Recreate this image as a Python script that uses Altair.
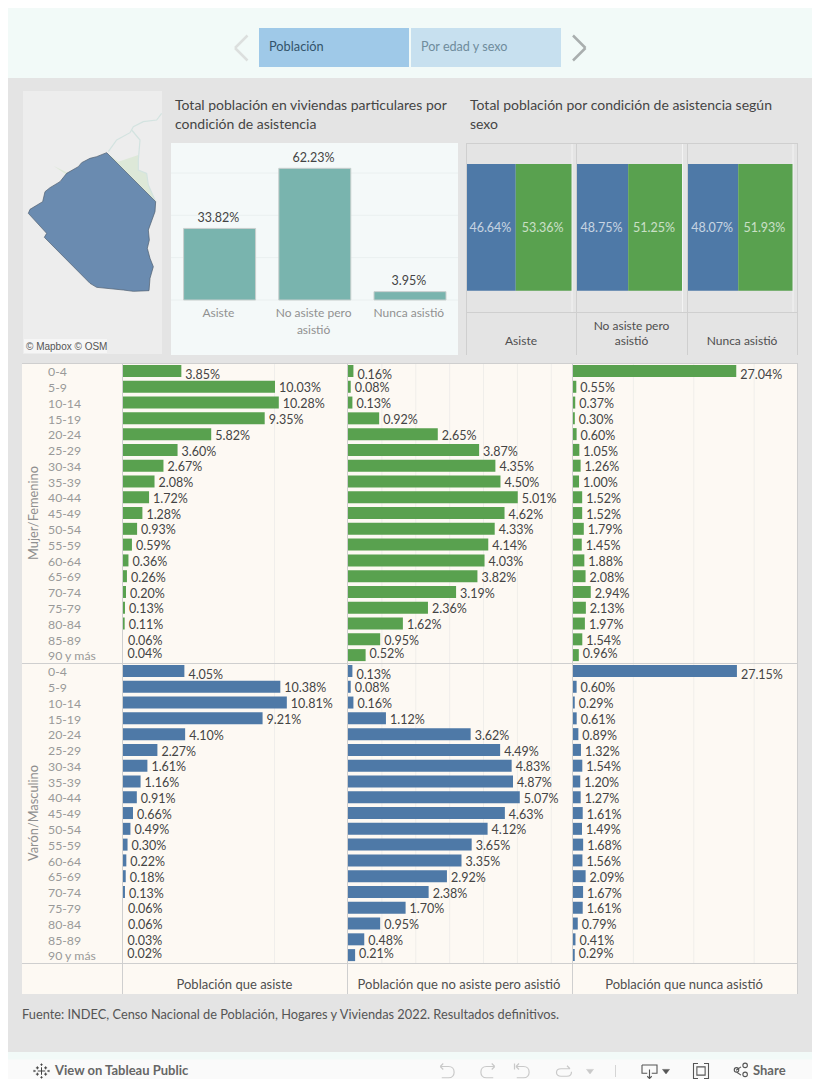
import altair as alt
import pandas as pd

FONT = "Lato"
BLUE = "#4e79a7"
GREEN = "#59a14f"
TEAL = "#79b4ae"
LINE = "#cfcfcf"

ages = ["0-4", "5-9", "10-14", "15-19", "20-24", "25-29", "30-34", "35-39", "40-44", "45-49",
        "50-54", "55-59", "60-64", "65-69", "70-74", "75-79", "80-84", "85-89", "90 y más"]
f_asiste = [3.85, 10.03, 10.28, 9.35, 5.82, 3.60, 2.67, 2.08, 1.72, 1.28, 0.93, 0.59, 0.36, 0.26, 0.20, 0.13, 0.11, 0.06, 0.04]
f_no = [0.16, 0.08, 0.13, 0.92, 2.65, 3.87, 4.35, 4.50, 5.01, 4.62, 4.33, 4.14, 4.03, 3.82, 3.19, 2.36, 1.62, 0.95, 0.52]
f_nunca = [27.04, 0.55, 0.37, 0.30, 0.60, 1.05, 1.26, 1.00, 1.52, 1.52, 1.79, 1.45, 1.88, 2.08, 2.94, 2.13, 1.97, 1.54, 0.96]
m_asiste = [4.05, 10.38, 10.81, 9.21, 4.10, 2.27, 1.61, 1.16, 0.91, 0.66, 0.49, 0.30, 0.22, 0.18, 0.13, 0.06, 0.06, 0.03, 0.02]
m_no = [0.13, 0.08, 0.16, 1.12, 3.62, 4.49, 4.83, 4.87, 5.07, 4.63, 4.12, 3.65, 3.35, 2.92, 2.38, 1.70, 0.95, 0.48, 0.21]
m_nunca = [27.15, 0.60, 0.29, 0.61, 0.89, 1.32, 1.54, 1.20, 1.27, 1.61, 1.49, 1.68, 1.56, 2.09, 1.67, 1.61, 0.79, 0.41, 0.29]

cond = ["Asiste", "No asiste pero\nasistió", "Nunca asistió"]
cond_total = [33.82, 62.23, 3.95]
sex_varon = [46.64, 48.75, 48.07]
sex_mujer = [53.36, 51.25, 51.93]

# map outline, in the reference's map units
map_x = [320, 467, 465, 445, 448, 442, 450, 460, 450, 447, 400, 370, 290, 270, 133, 140, 85, 90, 128, 135, 150, 180, 200, 235, 245, 270, 290, 320]
map_y = [458, 605, 635, 690, 720, 745, 775, 800, 835, 872, 874, 870, 862, 850, 712, 700, 640, 628, 605, 575, 563, 545, 520, 500, 488, 475, 470, 458]
river_x = [485, 470, 430, 400, 390, 350, 325]
river_y = [340, 360, 365, 380, 398, 420, 455]
river2_x = [395, 420, 415, 415, 440, 445, 467]
river2_y = [390, 420, 480, 510, 520, 555, 605]
park_x = [355, 415, 415, 440, 445, 467, 320, 355]
park_y = [485, 465, 510, 520, 555, 605, 458, 485]
park2_x = [160, 205, 200, 160]
park2_y = [497, 520, 524, 497]

ONE = alt.Data(values=[{"a": 1}])
layers = []


def Y(v):
    return v - 8


def X(v):
    return v - 8


def rect(x0, x1, y0, y1, color, **kw):
    layers.append(alt.Chart(ONE).mark_rect(color=color, **kw).encode(
        x=alt.value(X(x0)), x2=alt.value(X(x1)), y=alt.value(Y(y0)), y2=alt.value(Y(y1))))


def rule(x0, y0, x1, y1, color=LINE, width=1, **kw):
    layers.append(alt.Chart(ONE).mark_rule(color=color, strokeWidth=width, **kw).encode(
        x=alt.value(X(x0)), x2=alt.value(X(x1)), y=alt.value(Y(y0)), y2=alt.value(Y(y1))))


def label(x, y, s, size=12, color="#555555", align="left", angle=0, weight=400, font=FONT, **kw):
    layers.append(alt.Chart(ONE).mark_text(text=s, fontSize=size, color=color, align=align, angle=angle,
                                           fontWeight=weight, font=font, baseline="middle", **kw).encode(
        x=alt.value(X(x)), y=alt.value(Y(y))))


def icon(x, y, path, px=16, color="#c9c9c9", width=1.2, fill=None):
    kw = {"fill": fill, "filled": True} if fill else {"filled": False}
    layers.append(alt.Chart(ONE).mark_point(shape=path, size=px * px, stroke=color, strokeWidth=width,
                                            opacity=1, **kw).encode(
        x=alt.value(X(x)), y=alt.value(Y(y))))


def poly(xs, ys, fill=None, stroke=None, sw=1):
    df = pd.DataFrame({"x": xs, "y": ys, "o": range(len(xs))})
    kw = {}
    if fill:
        kw["fill"] = fill
    layers.append(alt.Chart(df).mark_line(stroke=stroke or "transparent", strokeWidth=sw, interpolate="linear", **kw).encode(
        x=alt.X("x:Q", axis=None, scale=alt.Scale(domain=[69, 486], range=[X(23), X(162)], nice=False, zero=False)),
        y=alt.Y("y:Q", axis=None, scale=alt.Scale(domain=[273, 1062], range=[Y(91), Y(354)], nice=False, zero=False)),
        order="o:Q"))


# ---------- page furniture ----------
rect(8, 812, 1059.5, 1087, "#fafafa")
rect(8, 812, 78, 1052, "#e4e4e4")

rect(259, 409, 28, 67, "#9fc9e8")
rect(411, 561, 28, 67, "#c7e0ef")
label(269, 47, "Población", size=12.8, color="#33546b")
label(421, 47, "Por edad y sexo", size=12.6, color="#6f8c9c")
rule(247.5, 35.5, 235, 48, "#dcdfde", 2.5)
rule(235, 48, 247.5, 60.5, "#dcdfde", 2.5)
rule(573, 35.5, 585.5, 48, "#a9aeae", 2.5)
rule(585.5, 48, 573, 60.5, "#a9aeae", 2.5)

# ---------- map ----------
rect(23, 162, 91, 354, "#ededed")
poly(park_x, park_y, fill="#dde8d8")
poly(park2_x, park2_y, fill="#dde8d8")
poly(river_x, river_y, stroke="#d3e3e0", sw=1.2)
poly(river2_x, river2_y, stroke="#d3e3e0", sw=1.2)
poly(map_x, map_y, fill="#6a8bb0", stroke="#4f5f70", sw=0.7)
rect(24, 107, 339, 353, "#f6f6f6")
label(26, 346.5, "© Mapbox  © OSM", size=10, color="#555555", font="Liberation Sans")

# ---------- titles ----------
TITLE = 14
label(175, 105.5, "Total población en viviendas particulares por", size=TITLE, color="#454545")
label(175, 124.5, "condición de asistencia", size=TITLE, color="#454545")
label(470, 105.5, "Total población por condición de asistencia según", size=TITLE, color="#454545")
label(470, 124.5, "sexo", size=TITLE, color="#454545")

# ---------- total by condition ----------
rect(171, 458, 143, 355, "#f4f9f9")
top_x = alt.Scale(domain=cond, range=[X(172), X(457.6)], paddingInner=0, paddingOuter=0)
top_y = alt.Scale(domain=[0, 74.2], range=[Y(300), Y(143)], nice=False, zero=True)
cond_df = pd.DataFrame({"c": cond, "v": cond_total, "t": [f"{v:.2f}%" for v in cond_total]})
grid_df = pd.DataFrame({"v": [0, 20, 40, 60]})
layers.append(alt.Chart(grid_df).mark_rule(color="#eaf0f0", strokeWidth=1).encode(
    y=alt.Y("v:Q", axis=None, scale=top_y), x=alt.value(X(171)), x2=alt.value(X(458))))
layers.append(alt.Chart(cond_df).mark_bar(size=72, color=TEAL, stroke="#c9cfce", strokeWidth=1).encode(
    x=alt.X("c:N", axis=None, sort=None, scale=top_x), y=alt.Y("v:Q", axis=None, scale=top_y)))
layers.append(alt.Chart(cond_df).mark_text(fontSize=12.5, font=FONT, color="#444444", dy=-10.5, dx=-1.2, baseline="middle").encode(
    x=alt.X("c:N", axis=None, sort=None, scale=top_x), y=alt.Y("v:Q", axis=None, scale=top_y), text="t:N"))
layers.append(alt.Chart(cond_df).mark_text(fontSize=12, font=FONT, color="#919191", baseline="top", lineBreak="\n",
                                           lineHeight=17, dx=-1.2).encode(
    x=alt.X("c:N", axis=None, sort=None, scale=top_x), y=alt.value(Y(308)), text="c:N"))

# ---------- condition by sex ----------
rule(466, 143.5, 798, 143.5)
rule(466, 312.5, 798, 312.5)
for xv in [466.5, 576.5, 687.5, 797.5]:
    rule(xv, 143.5, xv, 355)
spans = [(467, 571.5), (577, 682), (688, 792.5)]
for i, (a, b) in enumerate(spans):
    rule(b + .5, 144, b + .5, 312, "#f3f3f3", 1)
    df = pd.DataFrame({
        "s": ["Varón", "Mujer"],
        "lo": [0, sex_varon[i]],
        "hi": [sex_varon[i], sex_varon[i] + sex_mujer[i]],
        "mid": [sex_varon[i] / 2, sex_varon[i] + sex_mujer[i] / 2],
        "t": [f"{sex_varon[i]:.2f}%", f"{sex_mujer[i]:.2f}%"],
    })
    sc = alt.Scale(domain=[0, 100], range=[X(a), X(b)], nice=False, zero=True)
    layers.append(alt.Chart(df).mark_bar().encode(
        x=alt.X("lo:Q", axis=None, scale=sc), x2="hi:Q",
        y=alt.value(Y(164)), y2=alt.value(Y(290.7)),
        color=alt.Color("s:N", legend=None, scale=alt.Scale(domain=["Varón", "Mujer"], range=[BLUE, GREEN]))))
    layers.append(alt.Chart(df).mark_text(fontSize=12.5, font=FONT, color="#ffffff", opacity=0.68, dx=-1, baseline="middle").encode(
        x=alt.X("mid:Q", axis=None, scale=sc), y=alt.value(Y(228)), text="t:N"))
label(521, 340.5, "Asiste", align="center", color="#4f4f4f")
label(631.5, 325.5, "No asiste pero", align="center", color="#4f4f4f")
label(631.5, 340.5, "asistió", align="center", color="#4f4f4f")
label(742, 340.5, "Nunca asistió", align="center", color="#4f4f4f")

# ---------- pyramid table ----------
rect(22, 798, 364, 994, "#fdf9f3")
cols = [
    (123, 347.3, 14.8, [10], f_asiste, m_asiste, 0.1),
    (348, 572.3, 6.62, [1, 2, 3, 4, 5, 6], f_no, m_no, 0),
    (573, 797.3, 37.15, [10, 20, 30], f_nunca, m_nunca, 0),
]
bands = [(363.1, 663.0), (663.1, 963.0)]
for x0, x1, top, grid, fvals, mvals, min_bar in cols:
    sc = alt.Scale(domain=[0, top], range=[X(x0), X(x1)], nice=False, zero=True)
    layers.append(alt.Chart(pd.DataFrame({"g": grid})).mark_rule(color="#f0eeea", strokeWidth=1).encode(
        x=alt.X("g:Q", axis=None, scale=sc), y=alt.value(Y(364)), y2=alt.value(Y(963))))
    for (y0, y1), vals, colr in zip(bands, [fvals, mvals], [GREEN, BLUE]):
        ys = alt.Scale(domain=ages, range=[Y(y0), Y(y1)], paddingInner=0, paddingOuter=0)
        df = pd.DataFrame({"a": ages, "v": vals, "t": [f"{v:.2f}%" for v in vals], "r": range(len(ages))})
        layers.append(alt.Chart(df).transform_filter(f"datum.v >= {min_bar}").mark_bar(size=12, color=colr).encode(
            x=alt.X("v:Q", axis=None, scale=sc),
            y=alt.Y("a:N", axis=None, sort=None, scale=ys)))
        for cond_expr, dy in [("datum.r == 0", 4.3), ("datum.r > 0 && datum.r < 18", 1.6), ("datum.r == 18", -1.5)]:
            layers.append(alt.Chart(df).transform_filter(cond_expr).mark_text(
                align="left", baseline="middle", dx=4, dy=dy, fontSize=12.5, font=FONT, color="#444444").encode(
                x=alt.X("v:Q", axis=None, scale=sc),
                y=alt.Y("a:N", axis=None, sort=None, scale=ys),
                text="t:N"))

for (y0, y1) in bands:
    ys = alt.Scale(domain=ages, range=[Y(y0), Y(y1)], paddingInner=0, paddingOuter=0)
    layers.append(alt.Chart(pd.DataFrame({"a": ages})).mark_text(
        align="left", baseline="middle", dy=1.2, fontSize=12.3, font=FONT, color="#999999").encode(
        x=alt.value(X(48)), y=alt.Y("a:N", axis=None, sort=None, scale=ys), text="a:N"))

label(33.5, 513, "Mujer/Femenino", size=12.8, align="center", angle=270, color="#8f8f8f")
label(33.5, 813, "Varón/Masculino", size=12.8, align="center", angle=270, color="#8f8f8f")

rule(22, 363.5, 798, 363.5)
rule(22, 663.5, 798, 663.5)
rule(22, 963.5, 798, 963.5)
for xv in [122.5, 347.5, 572.5, 797.5]:
    rule(xv, 364, xv, 994)

label(234.5, 985, "Población que asiste", size=13, align="center", color="#4f4f4f")
label(459, 985, "Población que no asiste pero asistió", size=13, align="center", color="#4f4f4f")
label(684, 985, "Población que nunca asistió", size=13, align="center", color="#4f4f4f")
label(22, 1015, "Fuente: INDEC, Censo Nacional de Población, Hogares y Viviendas 2022. Resultados definitivos.",
      size=12.8, color="#555555")

# ---------- toolbar (kept inside the canvas, which ends at y = 1079) ----------
LOGO = ("M0,-.5V.5M-.5,0H.5M-.55,-.62V-.22M-.75,-.42H-.35M.55,-.62V-.22M.35,-.42H.75"
        "M-.55,.22V.62M-.75,.42H-.35M.55,.22V.62M.35,.42H.75"
        "M0,-1V-.7M-.15,-.85H.15M0,.7V1M-.15,.85H.15M-1,-.15V.15M-1,0H-.75M1,-.15V.15M.75,0H1")
BAR_Y = 1071
icon(41.5, BAR_Y, LOGO, px=15, color="#444444", width=1)
label(55, BAR_Y, "View on Tableau Public", size=13, color="#666666", weight=700)
UNDO = "M-.9,-.6H.2C1.2,-.6 1.2,.9 .2,.9H-.7M-.9,-.6L-.5,-1M-.9,-.6L-.5,-.2"
REDO = "M.9,-.6H-.2C-1.2,-.6 -1.2,.9 -.2,.9H.7M.9,-.6L.5,-1M.9,-.6L.5,-.2"
REVERT = "M-1,-1V-.2M-.8,-.6H.2C1.2,-.6 1.2,.9 .2,.9H-.7M-.8,-.6L-.4,-1M-.8,-.6L-.4,-.2"
REFRESH = "M.8,-.3H-.4C-1.2,-.3 -1.2,.7 -.4,.7H.4C1,.7 1,.2 1,.1M.8,-.3L.4,-.7"
DOWNLOAD = "M-1,-.8H1V.3H.3M-.3,.3H-1V-.8M0,-.2V1M-.3,.7L0,1L.3,.7"
FULL = "M-.55,-.55H.55V.55H-.55ZM-.4,-1H-1V1H-.4M.4,-1H1V1H.4"
SHARE = ("M.45,-.75A.3,.3 0 1 1 .45,-.74ZM.45,.45A.3,.3 0 1 1 .45,.46ZM-.7,-.15A.3,.3 0 1 1 -.7,-.14Z"
         "M-.45,-.1L.2,-.55M-.45,.1L.2,.55")
TRI = "M-1,-.6H1L0,.7Z"
icon(447, BAR_Y, UNDO, px=15)
icon(488, BAR_Y, REDO, px=15)
icon(522, BAR_Y, REVERT, px=15)
icon(564, BAR_Y, REFRESH, px=15)
icon(590, BAR_Y + .5, TRI, px=7, color="#c9c9c9", fill="#c9c9c9", width=0.5)
rule(615.5, BAR_Y - 6, 615.5, BAR_Y + 6, "#d5d5d5", 1)
icon(649.5, BAR_Y, DOWNLOAD, px=15, color="#555555", width=1.1)
icon(666, BAR_Y + .5, TRI, px=7, color="#555555", fill="#555555", width=0.5)
icon(701, BAR_Y, FULL, px=15, color="#555555", width=1.1)
icon(739.5, BAR_Y, SHARE, px=15, color="#555555", width=1.1)
label(753, BAR_Y, "Share", size=13, color="#666666", weight=700)

chart = alt.layer(*layers).resolve_scale(x="independent", y="independent").properties(
    width=804, height=1071, padding=0, background="#f2faf8",
    autosize=alt.AutoSizeParams(type="none"),
).configure_view(stroke=None)

chart.save("out.html", embed_options={"renderer": "svg", "actions": False})
